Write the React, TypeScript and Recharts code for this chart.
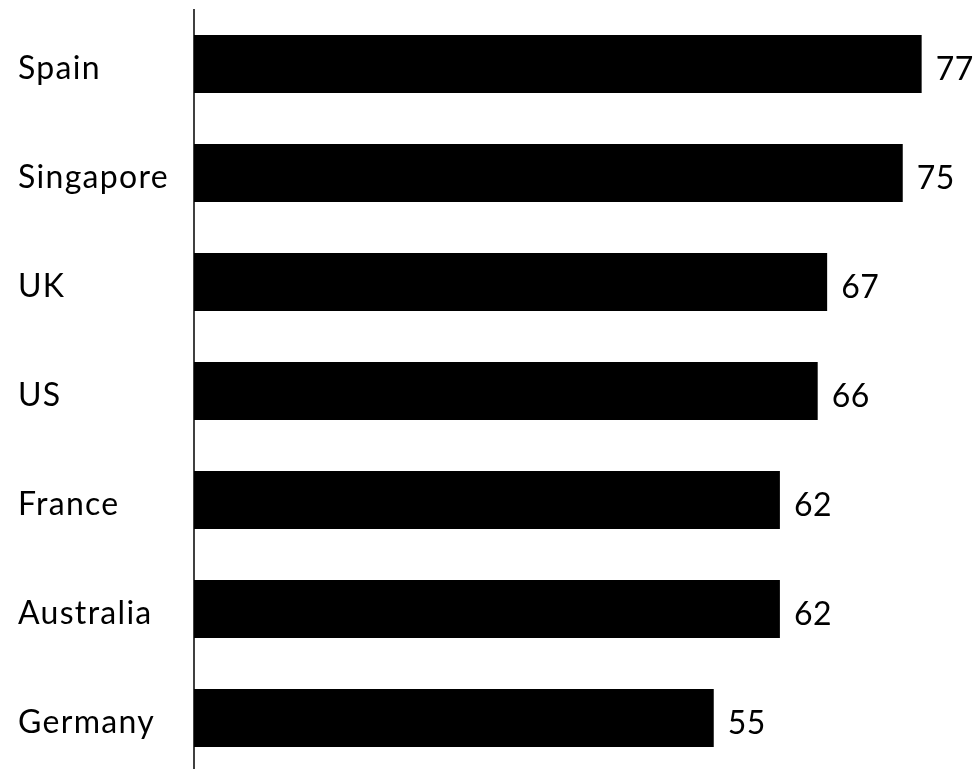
import { BarChart, Bar, XAxis, YAxis, LabelList } from 'recharts'

const countries = ['Spain', 'Singapore', 'UK', 'US', 'France', 'Australia', 'Germany']
const scores = [77, 75, 67, 66, 62, 62, 55]

const data = countries.map((country, i) => ({ country, score: scores[i] }))

const FONT = 'Lato, "Open Sans", sans-serif'
const FONT_SIZE = 32
const SPACING = 1.3
// baseline sits a bit below the bar's centre
const BASELINE_SHIFT = 15.5

function CountryTick({ y, payload }: { y?: number; payload?: { value: string } }) {
  return (
    <text
      x={18}
      y={(y ?? 0) + BASELINE_SHIFT}
      textAnchor="start"
      fontFamily={FONT}
      fontSize={FONT_SIZE}
      letterSpacing={SPACING}
      fill="#000"
    >
      {payload?.value}
    </text>
  )
}

function ValueLabel(props: any) {
  const { x, y, width, height, value } = props
  return (
    <text
      x={Number(x) + Number(width) + 14}
      y={Number(y) + Number(height) / 2 + BASELINE_SHIFT}
      textAnchor="start"
      fontFamily={FONT}
      fontSize={FONT_SIZE}
      letterSpacing={0.5}
      fill="#000"
    >
      {value}
    </text>
  )
}

export default function App() {
  // the plot runs a few px past the bottom of the window, as in the original
  return (
    <div style={{ width: 976, height: 769, overflow: 'hidden', position: 'fixed', left: 0, top: 0 }}>
      <BarChart
        width={976}
        height={774}
        data={data}
        layout="vertical"
        margin={{ top: 9, right: 26, bottom: 2, left: 0 }}
      >
        <XAxis type="number" domain={[0, 80]} hide />
        <YAxis
          type="category"
          dataKey="country"
          width={194}
          tickLine={false}
          axisLine={{ stroke: '#000', strokeWidth: 1.5 }}
          tick={<CountryTick />}
          interval={0}
        />
        <Bar dataKey="score" fill="#000" barSize={58} isAnimationActive={false}>
          <LabelList dataKey="score" content={<ValueLabel />} />
        </Bar>
      </BarChart>
    </div>
  )
}
